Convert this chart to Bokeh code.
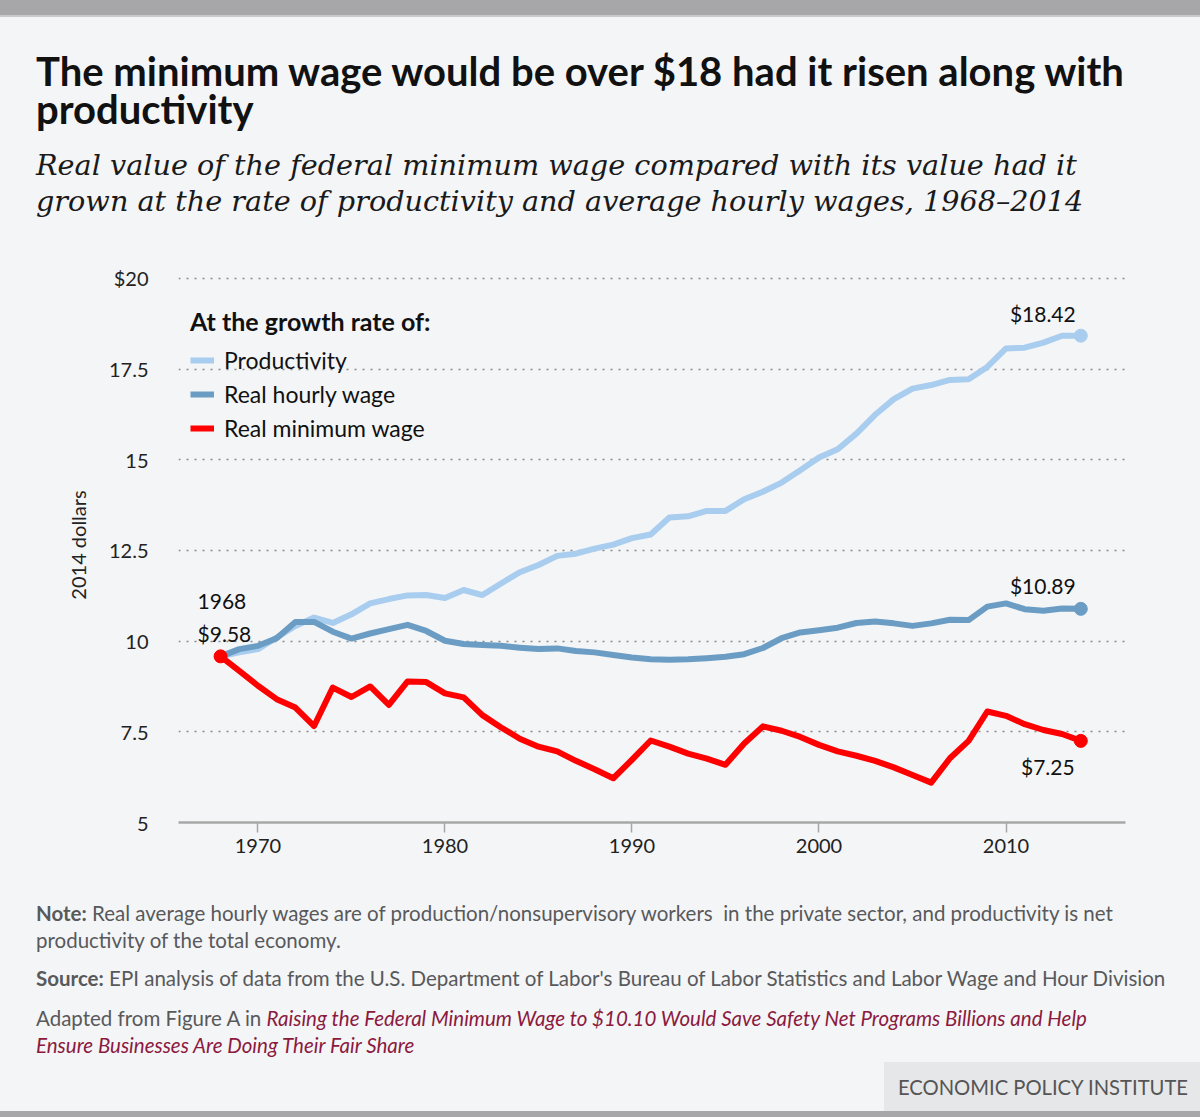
from bokeh.plotting import figure
from bokeh.layouts import column
from bokeh.models import (Range1d, FixedTicker, Label, Legend, LegendItem,
                          ColumnDataSource, Div)
from bokeh.embed import file_html
from bokeh.resources import INLINE

# ---------------- data ----------------
years = list(range(1968, 2015))

productivity = [9.58, 9.69, 9.78, 10.10, 10.42, 10.65, 10.50, 10.74, 11.04, 11.16,
                11.26, 11.27, 11.19, 11.41, 11.27, 11.59, 11.90, 12.10, 12.35, 12.41,
                12.55, 12.66, 12.84, 12.94, 13.41, 13.44, 13.59, 13.59, 13.91, 14.12,
                14.37, 14.71, 15.06, 15.29, 15.72, 16.24, 16.67, 16.96, 17.06, 17.20,
                17.22, 17.56, 18.07, 18.09, 18.23, 18.42, 18.42]

hourly_wage = [9.58, 9.78, 9.87, 10.08, 10.53, 10.53, 10.26, 10.07, 10.21, 10.33,
               10.45, 10.28, 10.01, 9.92, 9.89, 9.87, 9.82, 9.78, 9.80, 9.73,
               9.69, 9.62, 9.55, 9.50, 9.49, 9.50, 9.53, 9.57, 9.64, 9.81,
               10.08, 10.24, 10.30, 10.37, 10.50, 10.54, 10.49, 10.42, 10.49, 10.59,
               10.58, 10.95, 11.04, 10.88, 10.84, 10.90, 10.89]

minimum_wage = [9.58, 9.18, 8.77, 8.40, 8.17, 7.66, 8.72, 8.46, 8.75, 8.24,
                8.89, 8.87, 8.56, 8.45, 7.96, 7.62, 7.31, 7.09, 6.96, 6.70,
                6.47, 6.22, 6.73, 7.26, 7.09, 6.90, 6.76, 6.59, 7.18, 7.65,
                7.53, 7.36, 7.14, 6.96, 6.84, 6.70, 6.52, 6.31, 6.10, 6.77,
                7.25, 8.06, 7.94, 7.71, 7.55, 7.44, 7.25]

x_ticks = [1970, 1980, 1990, 2000, 2010]
y_ticks = [5, 7.5, 10, 12.5, 15, 17.5, 20]
y_tick_labels = ["5", "7.5", "10", "12.5", "15", "17.5", "$20"]

series_names = ["Productivity", "Real hourly wage", "Real minimum wage"]
end_labels = ["$18.42", "$10.89", "$7.25"]
start_year_label = "1968"
start_value_label = "$9.58"

title_lines = ["The minimum wage would be over $18 had it risen along with",
               "productivity"]
subtitle_lines = ["Real value of the federal minimum wage compared with its value had it",
                  "grown at the rate of productivity and average hourly wages, 1968\u20132014"]
note_bold = "Note:"
note_lines = ["Real average hourly wages are of production/nonsupervisory workers &nbsp;in the private sector, and productivity is net",
              "productivity of the total economy."]
source_bold = "Source:"
source_text = "EPI analysis of data from the U.S. Department of Labor's Bureau of Labor Statistics and Labor Wage and Hour Division"
adapted_text = "Adapted from Figure A in"
link_lines = ["Raising the Federal Minimum Wage to $10.10 Would Save Safety Net Programs Billions and Help",
              "Ensure Businesses Are Doing Their Fair Share"]
brand = "ECONOMIC POLICY INSTITUTE"
y_axis_title = "2014 dollars"
legend_title = "At the growth rate of:"

# ---------------- style ----------------
BG = "#f4f5f7"
BAND = "#a7a7a9"
C_PROD = "#a9cdef"
C_HOUR = "#6b9dc4"
C_MIN = "#ff0000"
SANS = "Lato"
SERIF = "DejaVu Serif"
GRAY = "#58595b"
LINK = "#8b1a3f"

PAGE_W = 1200
TOP_H, PLOT_H, BOT_H = 240, 640, 237

# ---------------- chart ----------------
chart = figure(width=PAGE_W, height=PLOT_H, output_backend="svg", toolbar_location=None,
               x_range=Range1d(1965.75, 2016.39), y_range=Range1d(5, 20.3),
               min_border_left=178, min_border_right=75,
               min_border_top=27, min_border_bottom=58,
               background_fill_color=BG, border_fill_color=BG,
               outline_line_color=None, margin=0)

xa = chart.xaxis[0]
xa.ticker = FixedTicker(ticks=x_ticks)
xa.axis_line_color = "#a7a7a7"
xa.axis_line_width = 2.5
xa.major_tick_line_color = "#a7a7a7"
xa.major_tick_line_width = 1.5
xa.major_tick_out = 10
xa.major_tick_in = 0
xa.minor_tick_line_color = None
xa.major_label_text_font = SANS
xa.major_label_text_font_size = "20px"
xa.major_label_text_color = "#222222"
xa.major_label_standoff = 6

ya = chart.yaxis[0]
ya.ticker = FixedTicker(ticks=y_ticks)
ya.major_label_overrides = {t: s for t, s in zip(y_ticks, y_tick_labels)}
ya.axis_line_color = None
ya.major_tick_line_color = None
ya.major_tick_out = 0
ya.major_tick_in = 0
ya.minor_tick_line_color = None
ya.major_label_text_font = SANS
ya.major_label_text_font_size = "20px"
ya.major_label_text_color = "#222222"
ya.major_label_standoff = 30
ya.axis_label = y_axis_title
ya.axis_label_text_font = SANS
ya.axis_label_text_font_size = "20px"
ya.axis_label_text_font_style = "normal"
ya.axis_label_text_color = "#222222"
ya.axis_label_standoff = 16

chart.xgrid.visible = False
chart.ygrid.ticker = FixedTicker(ticks=y_ticks[1:])
chart.ygrid.grid_line_color = "#8a8a8a"
chart.ygrid.grid_line_width = 1.6
chart.ygrid.grid_line_dash = "2 6"

src = ColumnDataSource(dict(year=years, prod=productivity, hourly=hourly_wage, minw=minimum_wage))
r_prod = chart.line("year", "prod", source=src, line_color=C_PROD, line_width=6, line_join="round")
r_hour = chart.line("year", "hourly", source=src, line_color=C_HOUR, line_width=6, line_join="round")
r_min = chart.line("year", "minw", source=src, line_color=C_MIN, line_width=6, line_join="round")

chart.scatter(x=[years[-1]], y=[productivity[-1]], size=13, color=C_PROD)
chart.scatter(x=[years[-1]], y=[hourly_wage[-1]], size=13, color=C_HOUR)
chart.scatter(x=[years[-1]], y=[minimum_wage[-1]], size=13, color=C_MIN)
chart.scatter(x=[years[0]], y=[minimum_wage[0]], size=13, color=C_MIN)

legend = Legend(items=[LegendItem(label=n, renderers=[r]) for n, r in
                       zip(series_names, [r_prod, r_hour, r_min])],
                location=(12, 380), title=legend_title,
                title_text_font=SANS, title_text_font_size="25px",
                title_text_font_style="bold", title_text_color="#111111",
                title_standoff=10,
                label_text_font=SANS, label_text_font_size="23px", label_text_color="#111111",
                glyph_width=24, glyph_height=22, label_height=22, label_standoff=10,
                spacing=6, padding=0, margin=0,
                background_fill_alpha=0, border_line_alpha=0)
chart.add_layout(legend)

def dlab(text, x, y, xo, yo, align="center"):
    chart.add_layout(Label(x=x, y=y, x_offset=xo, y_offset=yo, text=text,
                           text_font=SANS, text_font_size="21px", text_color="#111111",
                           text_align=align, text_baseline="alphabetic"))

dlab(end_labels[0], years[-1], productivity[-1], -38, 22)
dlab(end_labels[1], years[-1], hourly_wage[-1], -38, 23)
dlab(end_labels[2], years[-1], minimum_wage[-1], -33, -26)
dlab(start_year_label, years[0], minimum_wage[0], -23, 55, "left")
dlab(start_value_label, years[0], minimum_wage[0], -23, 23, "left")

# ---------------- header / footer (HTML text) ----------------
K = {SANS: 0.387, SERIF: 0.346}   # (ascent - descent) / 2 per em

def line(html, left, baseline, size, font, color, weight="normal", style="normal", lh=None):
    if lh is None:
        lh = round(size * 1.25)
    top = baseline - lh / 2 - K[font] * size
    return (f'<div style="position:absolute;left:{left}px;top:{top:.1f}px;'
            f'font-family:\'{font}\';font-size:{size}px;line-height:{lh}px;'
            f'font-weight:{weight};font-style:{style};color:{color};white-space:nowrap;">'
            f'{html}</div>')

def block(color, left, top, width, height):
    return (f'<div style="position:absolute;left:{left}px;top:{top}px;width:{width}px;'
            f'height:{height}px;background:{color};"></div>')

def wrap(inner, height):
    return (f'<div style="position:relative;width:{PAGE_W}px;height:{height}px;'
            f'background:{BG};overflow:hidden;margin:0;padding:0;">{inner}</div>')

top_html = (block(BAND, 0, 0, PAGE_W, 15) + block("#c9c9cb", 0, 15, PAGE_W, 1.5) +
            line("<br>".join(title_lines), 36, 86, 40, SANS, "#111111", "bold", lh=38) +
            line("<br>".join(subtitle_lines), 36, 175, 28.7, SERIF, "#1a1a1a", "normal", "italic", lh=36))

O = TOP_H + PLOT_H
NS = 20.5
bot_html = (line(f'<b>{note_bold}</b> {note_lines[0]}<br>{note_lines[1]}', 36, 921 - O, NS, SANS, GRAY, lh=27) +
            line(f'<b>{source_bold}</b> {source_text}', 36, 986 - O, NS, SANS, GRAY) +
            line(f'{adapted_text} <i style="color:{LINK}">{link_lines[0]}<br>{link_lines[1]}</i>',
                 36, 1026 - O, NS, SANS, GRAY, lh=27) +
            block("#e6e7e9", 884, 1062 - O, PAGE_W - 884, 49) +
            line(f'<span style="display:inline-block;width:{1188 - 884}px;text-align:right;">{brand}</span>',
                 884, 1095 - O, 20.2, SANS, "#555555") +
            block(BAND, 0, 1111 - O, PAGE_W, 6))

top_div = Div(text=wrap(top_html, TOP_H), width=PAGE_W, height=TOP_H, margin=0,
              styles={"background-color": BG})
bot_div = Div(text=wrap(bot_html, BOT_H), width=PAGE_W, height=BOT_H, margin=0,
              styles={"background-color": BG})

p = column(top_div, chart, bot_div, spacing=0, margin=0,
           styles={"background-color": BG})

open("out.html", "w").write(file_html(p, INLINE))
